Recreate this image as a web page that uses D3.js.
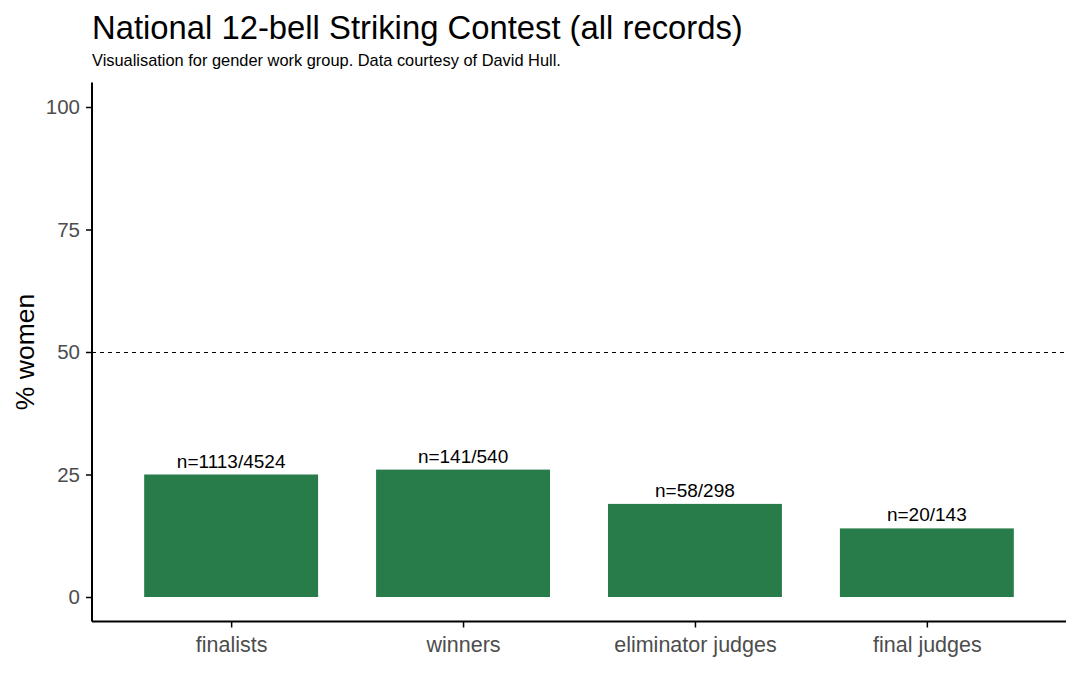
<!DOCTYPE html>
<html>
<head>
<meta charset="utf-8">
<script src="https://cdnjs.cloudflare.com/ajax/libs/d3/7.8.5/d3.min.js"></script>
<style>
  body { margin: 0; background: white; }
  text { font-family: "Liberation Sans", Arial, sans-serif; }
</style>
</head>
<body>
<div id="container"></div>
<script>
// data
let groups = ["finalists", "winners", "eliminator judges", "final judges"];
let women = [1113, 141, 58, 20];
let totals = [4524, 540, 298, 143];
let pct = [25, 26, 19, 14];
let yTicks = [0, 25, 50, 75, 100];

let green = "#287C4A";
let tickGrey = "#4D4D4D";

let viz = d3.select("#container")
  .append("svg")
    .attr("width", 1080)
    .attr("height", 697)
    .style("background-color", "white");

let pLeft = 92, pRight = 1066, pTop = 82.5, pBottom = 621.5;

let x = d3.scalePoint()
  .domain(groups)
  .range([pLeft, pRight])
  .padding(0.6);

let y = d3.scaleLinear()
  .domain([-5, 105])
  .range([pBottom, pTop]);

let barW = x.step() * 0.75;

// bars
viz.selectAll(".bar")
  .data(groups)
  .enter()
  .append("rect")
    .attr("x", d => x(d) - barW / 2)
    .attr("y", (d, i) => y(pct[i]))
    .attr("width", barW)
    .attr("height", (d, i) => y(0) - y(pct[i]))
    .attr("fill", green);

// labels
viz.selectAll(".lab")
  .data(groups)
  .enter()
  .append("text")
    .text((d, i) => "n=" + women[i] + "/" + totals[i])
    .attr("x", d => x(d))
    .attr("y", (d, i) => y(pct[i]) - 7)
    .attr("text-anchor", "middle")
    .attr("font-size", 19)
    .attr("fill", "black");

// dashed line at 50
viz.append("line")
  .attr("x1", pLeft)
  .attr("x2", pRight)
  .attr("y1", y(50) + 0.5)
  .attr("y2", y(50) + 0.5)
  .attr("stroke", "black")
  .attr("stroke-width", 1.1)
  .attr("stroke-dasharray", "4,4");

// y axis
let yAxis = viz.append("g")
  .attr("transform", "translate(" + pLeft + ",0)")
  .call(d3.axisLeft(y).tickValues(yTicks).tickSize(6).tickPadding(6));
yAxis.select(".domain").attr("d", "M0," + pTop + "V" + pBottom).attr("stroke-width", 2);
yAxis.selectAll(".tick line").attr("stroke-width", 1.5);
yAxis.selectAll(".tick text")
  .attr("font-size", 20.5)
  .attr("fill", tickGrey)
  .style("font-family", "Liberation Sans, Arial, sans-serif");

// x axis
let xAxis = viz.append("g")
  .attr("transform", "translate(0," + pBottom + ")")
  .call(d3.axisBottom(x).tickSize(6).tickPadding(9));
xAxis.select(".domain").attr("d", "M" + pLeft + ",0H" + pRight).attr("stroke-width", 2);
xAxis.selectAll(".tick line").attr("stroke-width", 1.5);
xAxis.selectAll(".tick text")
  .attr("font-size", 21.5)
  .attr("fill", tickGrey)
  .style("font-family", "Liberation Sans, Arial, sans-serif");

// axis title
viz.append("text")
  .text("% women")
  .attr("transform", "translate(34," + ((pTop + pBottom) / 2) + ") rotate(-90)")
  .attr("text-anchor", "middle")
  .attr("font-size", 26.5)
  .attr("fill", "black");

// title
viz.append("text")
  .text("National 12-bell Striking Contest (all records)")
  .attr("x", 92)
  .attr("y", 39)
  .attr("font-size", 32.8)
  .attr("fill", "black");

viz.append("text")
  .text("Visualisation for gender work group. Data courtesy of David Hull.")
  .attr("x", 92)
  .attr("y", 66)
  .attr("font-size", 16.4)
  .attr("fill", "black");
</script>
</body>
</html>
